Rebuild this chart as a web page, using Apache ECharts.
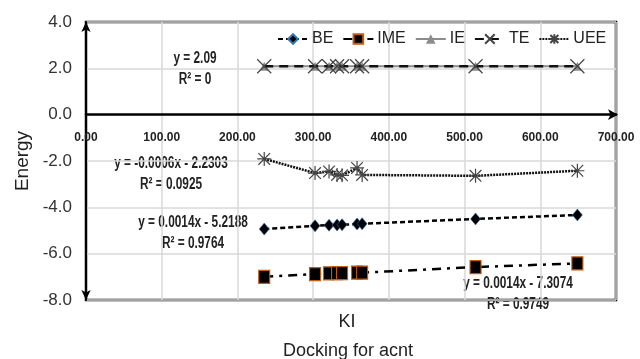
<!DOCTYPE html>
<html><head><meta charset="utf-8">
<script src="https://cdn.jsdelivr.net/npm/echarts@6/dist/echarts.min.js"></script>
<style>html,body{margin:0;padding:0;background:#fff}#c{width:640px;height:359px}</style>
</head><body><div id="c"></div>
<script>
const kiValues = [235.4, 302.5, 321.0, 331.6, 338.2, 358.0, 364.7, 514.5, 649.0];
const beValues = [-4.94, -4.80, -4.77, -4.76, -4.75, -4.72, -4.71, -4.50, -4.33];
const imeValues = [-7.00, -6.88, -6.85, -6.84, -6.84, -6.82, -6.82, -6.58, -6.42];
const ieValues = [2.09, 2.09, 2.09, 2.09, 2.09, 2.09, 2.09, 2.09, 2.09];
const teValues = [2.09, 2.09, 2.09, 2.09, 2.09, 2.09, 2.09, 2.09, 2.09];
const ueeValues = [-1.91, -2.52, -2.45, -2.60, -2.62, -2.30, -2.60, -2.64, -2.42];
const seriesNames = ['BE', 'IME', 'IE', 'TE', 'UEE'];
const trendLabels = [
  ['y = 2.09', 'R\u00b2 = 0'],
  ['y = -0.0006x - 2.2303', 'R\u00b2 = 0.0925'],
  ['y = 0.0014x - 5.2188', 'R\u00b2 = 0.9764'],
  ['y = 0.0014x - 7.3074', 'R\u00b2 = 0.9749']
];
const pair = v => kiValues.map((x, i) => [x, v[i]]);
const chart = echarts.init(document.getElementById('c'));
const sans = 'Arial, "Liberation Sans", sans-serif';
const xPath = 'path://M0,0L10,10M10,0L0,10';
const starPath = 'path://M0,0L10,10M10,0L0,10M5,-1L5,11M-1,5L11,5';
function trendText(lines, cx, cy) {
  return {
    type: 'text', x: cx, y: cy, scaleX: 0.74,
    style: { text: lines.join('\n'), fill: '#222', font: 'bold 16px ' + sans, align: 'center', verticalAlign: 'middle', lineHeight: 21 }
  };
}
const gridTop = 22, gridBottom = 59, H = 359;
const zeroOffset = -((H - gridBottom) - (gridTop + (H - gridTop - gridBottom) * 4 / 12));
chart.setOption({
  animation: false,
  grid: { left: 86, right: 24, top: gridTop, bottom: gridBottom, show: true, borderColor: '#000', borderWidth: 2.5, backgroundColor: 'transparent' },
  legend: {
    top: 26, left: 272, itemWidth: 30, itemHeight: 12, itemGap: 9,
    data: seriesNames,
    textStyle: { fontFamily: sans, fontSize: 16, color: '#222', padding: [0, 0, 0, -1] }
  },
  xAxis: {
    type: 'value', min: 0, max: 700, interval: 100,
    position: 'bottom', offset: zeroOffset,
    axisLine: { onZero: false, lineStyle: { color: '#000', width: 2.5 }, symbol: ['none', 'arrow'], symbolSize: [8, 10], symbolOffset: [0, 2] },
    axisTick: { show: false },
    axisLabel: { margin: 17, formatter: v => v.toFixed(2), fontFamily: sans, fontWeight: 'bold', fontSize: 12, color: '#222' },
    splitLine: { show: true, lineStyle: { color: '#d9d9d9', width: 1.5 } }
  },
  yAxis: {
    type: 'value', min: -8, max: 4, interval: 2,
    name: 'Energy', nameLocation: 'middle', nameGap: 49, nameRotate: 90,
    nameTextStyle: { fontFamily: sans, fontSize: 19, color: '#222' },
    axisLine: { lineStyle: { color: '#000', width: 2 }, symbol: ['arrow', 'arrow'], symbolSize: [7, 10] },
    axisTick: { show: false },
    axisLabel: { margin: 14, formatter: v => v.toFixed(1), fontFamily: sans, fontSize: 17, color: '#333' },
    splitLine: { show: true, lineStyle: { color: '#d9d9d9', width: 1.5 } }
  },
  series: [
    { name: 'BE', type: 'line', data: pair(beValues), symbol: 'diamond', symbolSize: [10, 12],
      itemStyle: { color: '#000', borderColor: '#2e75b6', borderWidth: 0.6 },
      lineStyle: { color: '#000', width: 2.5, type: [5, 3] }, z: 5 },
    { name: 'IME', type: 'line', data: pair(imeValues), symbol: 'rect', symbolSize: [11, 13],
      itemStyle: { color: '#000', borderColor: '#c55a11', borderWidth: 1.2 },
      lineStyle: { color: '#000', width: 2.5, type: [9, 6, 3, 6] }, z: 5 },
    { name: 'IE', type: 'line', data: pair(ieValues), symbol: 'triangle', symbolSize: 9,
      itemStyle: { color: '#8c8c8c' },
      lineStyle: { color: '#8c8c8c', width: 2 }, z: 3 },
    { name: 'TE', type: 'line', data: pair(teValues), symbol: xPath, symbolSize: 14,
      itemStyle: { color: 'rgba(0,0,0,0)', borderColor: '#444', borderWidth: 1.2 },
      lineStyle: { color: '#111', width: 2.5, type: [9, 6] }, z: 4 },
    { name: 'UEE', type: 'line', data: pair(ueeValues), symbol: starPath, symbolSize: 14,
      itemStyle: { color: 'rgba(0,0,0,0)', borderColor: '#444', borderWidth: 1.2 },
      lineStyle: { color: '#111', width: 2.5, type: [2, 1] }, z: 4 }
  ],
  graphic: [
    trendText(trendLabels[0], 195, 69),
    trendText(trendLabels[1], 171, 174),
    trendText(trendLabels[2], 193, 233),
    trendText(trendLabels[3], 518, 294),
    { type: 'text', x: 347, y: 322, style: { text: 'KI', fill: '#222', font: '18px ' + sans, align: 'center', verticalAlign: 'middle' } },
    { type: 'text', x: 348, y: 351, style: { text: 'Docking for acnt', fill: '#222', font: '18px ' + sans, align: 'center', verticalAlign: 'middle' } }
  ]
});
</script></body></html>
